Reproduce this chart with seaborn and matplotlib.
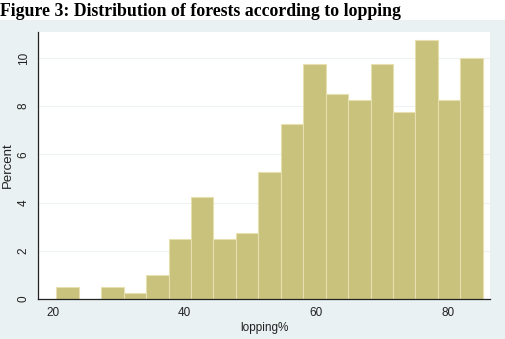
import numpy as np
import pandas as pd
import matplotlib
matplotlib.use("Agg")
import matplotlib.pyplot as plt
import seaborn as sns

# bin edges of the lopping% histogram (19 bins) and the percent in each bin
bin_edges = [20.5, 23.91, 27.32, 30.73, 34.14, 37.55, 40.96, 44.37, 47.78, 51.19,
             54.6, 58.01, 61.42, 64.83, 68.24, 71.65, 75.06, 78.47, 81.88, 85.29]
percent = [0.5, 0.0, 0.5, 0.25, 1.0, 2.5, 4.25, 2.5, 2.75, 5.25,
           7.25, 9.75, 8.5, 8.25, 9.75, 7.75, 10.75, 8.25, 10.0]
x_ticks = [20, 40, 60, 80]
y_ticks = [0, 2, 4, 6, 8, 10]

mids = [(a + b) / 2 for a, b in zip(bin_edges[:-1], bin_edges[1:])]
df = pd.DataFrame({"lopping": mids, "pct": percent})

sns.set_style("white")
plt.rcParams["font.family"] = ["Liberation Sans", "DejaVu Sans"]

fig = plt.figure(figsize=(5.05, 3.39), dpi=100, facecolor="white")
# stata-like light blue-grey graph region below the caption
bg = fig.add_axes([0, 0, 1, 1 - 20 / 339], zorder=0)
bg.set_facecolor("#EAF1F3")
bg.set_xticks([])
bg.set_yticks([])
for s in bg.spines.values():
    s.set_visible(False)

ax = fig.add_axes([38 / 505, 40 / 339, 452 / 505, 267 / 339], zorder=1)
ax.set_facecolor("white")

sns.histplot(data=df, x="lopping", weights="pct", bins=bin_edges, stat="count",
             color="#C8C27C", alpha=1, edgecolor="#E6E0B0", linewidth=0.8, ax=ax)

ax.set_xlim(17.7, 86.4)
ax.set_ylim(0, 11.08)
ax.set_xticks(x_ticks)
ax.set_yticks(y_ticks)
ax.yaxis.grid(True, color="#EDF2F2", linewidth=0.8)
ax.set_axisbelow(True)
for s in ["top", "right"]:
    ax.spines[s].set_visible(False)
for s in ["left", "bottom"]:
    ax.spines[s].set_color("#222222")
    ax.spines[s].set_linewidth(0.9)
ax.tick_params(axis="both", direction="out", length=4, width=0.9, color="#222222",
               labelsize=8.5, labelcolor="#222222", pad=2)
ax.tick_params(axis="y", labelrotation=90)
for lab in ax.get_yticklabels():
    lab.set_va("center")

ax.set_xlabel("lopping%", fontsize=8.5, color="#222222", labelpad=2)
ax.set_ylabel("Percent", fontsize=9.5, color="#222222", labelpad=3)

fig.text(0.0, 1 - 12 / 339, "Figure 3: Distribution of forests according to lopping",
         fontfamily="Liberation Serif", fontweight="bold", fontsize=12.8,
         ha="left", va="center", color="black")

fig.savefig("out.png", dpi=100)
